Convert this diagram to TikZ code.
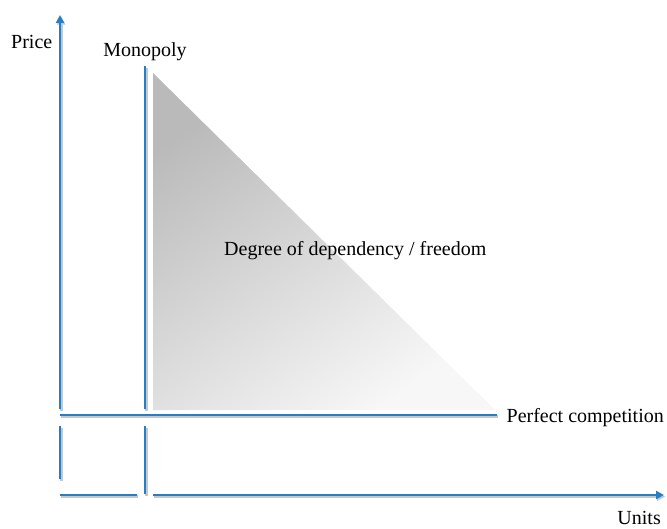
\documentclass[tikz,border=0pt]{standalone}
\usepackage{fontspec}
\setmainfont{Liberation Serif}
\usetikzlibrary{arrows.meta}

\definecolor{axisblue}{RGB}{40,125,195}

\begin{document}
\begin{tikzpicture}[x=1pt, y=-1pt,
    axisline/.style={color=axisblue, line width=2.6pt,
        preaction={draw=black!22, line width=2.6pt, transform canvas={shift={(1.2pt,-1.6pt)}}}},
    axisarrow/.style={axisline, -{Triangle[length=8pt, width=8pt]}},
    label/.style={font=\fontsize{20}{24}\selectfont, inner sep=0pt}]

    \useasboundingbox (0, 0) rectangle (667, 529);

    \shade[top color=black!27, bottom color=black!3, shading angle=35] (153, 73) -- (153, 410) -- (495, 410) -- cycle;

    \draw[axisarrow] (60, 409) -- (60, 15);
    \draw[axisline] (60, 426) -- (60, 479);
    \draw[axisline] (145, 409) -- (145, 66);
    \draw[axisline] (145, 426) -- (145, 494);

    \draw[axisline] (60, 415) -- (497, 415);
    \draw[axisline] (60, 495) -- (137, 495);
    \draw[axisarrow] (153, 495) -- (664, 495);

    \node[label, anchor=base west] (price) at (11, 49) {Price};
    \node[label, anchor=base] (monopoly) at (145, 57) {Monopoly};
    \node[label, anchor=base west] (degree) at (224, 256) {Degree of dependency / freedom};
    \node[label, anchor=base east] (perfect) at (664, 422) {Perfect competition};
    \node[label, anchor=base east] (units) at (661, 524) {Units};

\end{tikzpicture}
\end{document}
